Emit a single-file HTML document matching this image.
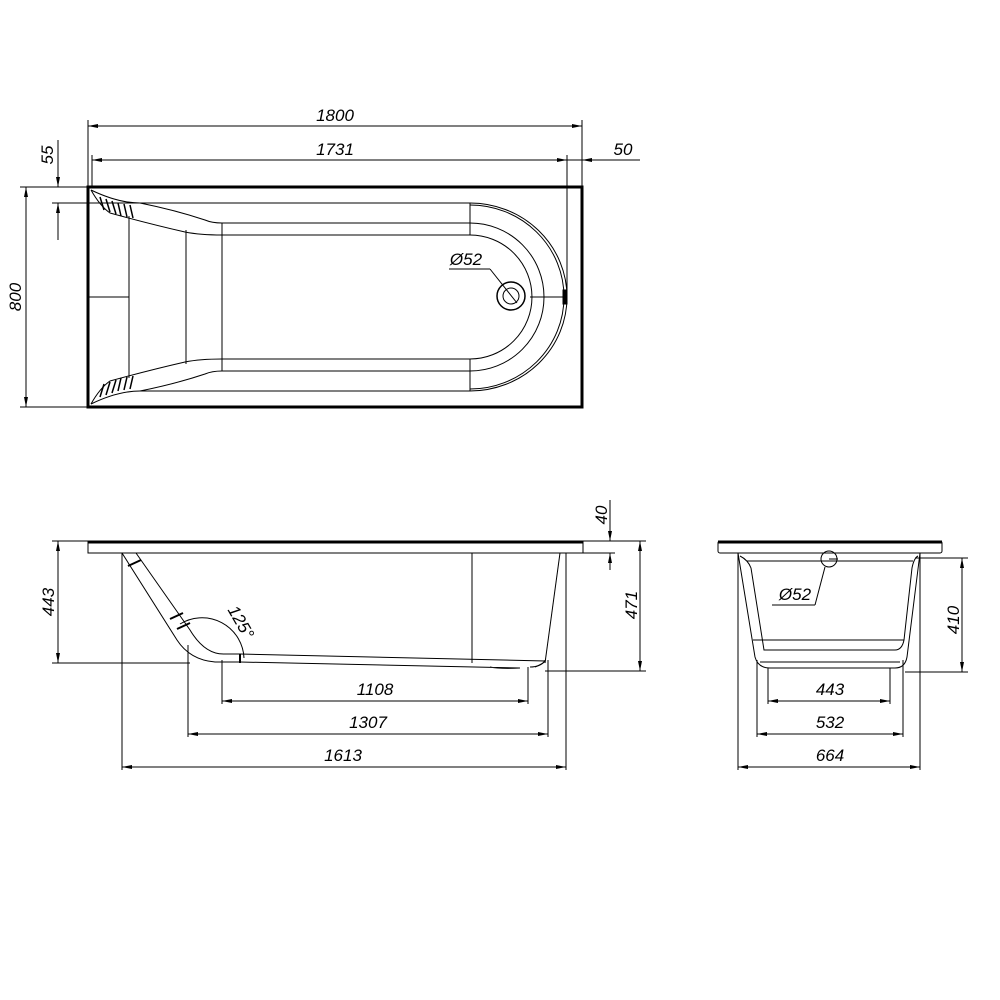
<!DOCTYPE html>
<html><head><meta charset="utf-8"><style>
html,body{margin:0;padding:0;background:#fff;}
svg{display:block;}
text{font-family:"Liberation Sans",sans-serif;font-style:italic;font-size:17px;fill:#000;}
</style></head><body>
<svg width="1000" height="1000" viewBox="0 0 1000 1000" xmlns="http://www.w3.org/2000/svg">
<defs>
<marker id="a" viewBox="0 0 10 6" refX="10" refY="3" markerWidth="10" markerHeight="6" orient="auto-start-reverse" markerUnits="userSpaceOnUse"><path d="M0,1 L10,3 L0,5 z" fill="#000"/></marker>
</defs>
<g fill="none" stroke="#000" stroke-width="1">
<!-- TOP VIEW -->
<rect x="88" y="187" width="494" height="220" stroke-width="3"/>
<path d="M140,203 L470,203 A97,94 0 0 1 470,391 L140,391"/>
<path d="M470,205 A94,92 0 0 1 470,389"/>
<path d="M91,190 Q118,203 140,203"/>
<path d="M91,404 Q118,391 140,391"/>
<path d="M91,190 Q100,206 110,213 Q150,224 185,232 Q200,235 222,235 L470,235 A62,62 0 0 1 470,359 L222,359 Q200,359 185,362 Q150,370 110,381 Q100,388 91,404"/>
<path d="M222,223 L470,223 A74,74 0 0 1 470,371 L222,371"/>
<path d="M140,203 Q175,210 205,220 Q212,223 222,223"/>
<path d="M140,391 Q175,384 205,374 Q212,371 222,371"/>
<line x1="129" y1="216" x2="129" y2="378"/>
<line x1="186" y1="230" x2="186" y2="364"/>
<line x1="222" y1="223" x2="222" y2="371"/>
<line x1="470" y1="203" x2="470" y2="235"/>
<line x1="470" y1="359" x2="470" y2="391"/>
<line x1="88" y1="297" x2="129" y2="297"/>
<line x1="530" y1="297" x2="565" y2="297"/>
<path d="M100,197 L104,210 M106,199 L110,212 M112,201 L116,214 M118,203 L121,216 M124,204 L127,217 M130,205 L133,218" stroke-width="1.5"/>
<path d="M100,397 L104,384 M106,395 L110,382 M112,393 L116,380 M118,391 L121,378 M124,390 L127,377 M130,389 L133,376" stroke-width="1.5"/>
<circle cx="511" cy="296" r="14" stroke-width="1.5"/>
<circle cx="511" cy="296" r="8"/>
<rect x="563" y="290" width="4" height="14" fill="#000"/>
<!-- top dims -->
<line x1="88" y1="120" x2="88" y2="187"/>
<line x1="582" y1="120" x2="582" y2="187"/>
<line x1="88" y1="126" x2="582" y2="126" marker-start="url(#a)" marker-end="url(#a)"/>
<line x1="92" y1="155" x2="92" y2="187"/>
<line x1="567" y1="155" x2="567" y2="300"/>
<line x1="92" y1="160" x2="567" y2="160" marker-start="url(#a)" marker-end="url(#a)"/>
<line x1="567" y1="160" x2="590" y2="160"/>
<line x1="640" y1="160" x2="582" y2="160" marker-end="url(#a)"/>
<line x1="58" y1="140" x2="58" y2="187" marker-end="url(#a)"/>
<line x1="58" y1="240" x2="58" y2="203" marker-end="url(#a)"/>
<line x1="52" y1="187" x2="88" y2="187"/>
<line x1="52" y1="203" x2="140" y2="203"/>
<line x1="20" y1="187" x2="88" y2="187"/>
<line x1="20" y1="407" x2="88" y2="407"/>
<line x1="26" y1="187" x2="26" y2="407" marker-start="url(#a)" marker-end="url(#a)"/>
<line x1="449" y1="269" x2="490" y2="269"/>
<line x1="490" y1="269" x2="517" y2="303"/>
<!-- SIDE VIEW -->
<rect x="88" y="541" width="495" height="12"/>
<line x1="88" y1="542" x2="583" y2="542" stroke-width="3"/>
<path d="M122,553 L177,640 Q190,660 215,662 L240,662"/>
<path d="M136,553 L190,630 Q205,655 225,654 L240,654"/>
<line x1="170" y1="619" x2="183" y2="613" stroke-width="2"/>
<line x1="177" y1="629" x2="190" y2="623" stroke-width="2"/>
<line x1="128" y1="566" x2="141" y2="560" stroke-width="2"/>
<path d="M240,654 L545,661 Q540,667 530,667"/>
<path d="M240,662 L520,668 Q500,669 490,667"/>
<line x1="240" y1="654" x2="240" y2="663" stroke-width="2"/>
<line x1="560" y1="553" x2="545" y2="663"/>
<line x1="472" y1="553" x2="472" y2="663"/>
<path d="M535,667 Q545,663 545,660"/>
<path d="M180,624 A42,42 0 0 1 244,658"/>
<!-- side dims -->
<line x1="52" y1="541" x2="88" y2="541"/>
<line x1="52" y1="663" x2="190" y2="663"/>
<line x1="58" y1="541" x2="58" y2="663" marker-start="url(#a)" marker-end="url(#a)"/>
<line x1="583" y1="541" x2="646" y2="541"/>
<line x1="545" y1="671" x2="646" y2="671"/>
<line x1="640" y1="541" x2="640" y2="671" marker-start="url(#a)" marker-end="url(#a)"/>
<line x1="583" y1="553" x2="615" y2="553"/>
<line x1="610" y1="500" x2="610" y2="541" marker-end="url(#a)"/>
<line x1="610" y1="570" x2="610" y2="553" marker-end="url(#a)"/>
<line x1="222" y1="660" x2="222" y2="704"/>
<line x1="528" y1="667" x2="528" y2="704"/>
<line x1="222" y1="701" x2="528" y2="701" marker-start="url(#a)" marker-end="url(#a)"/>
<line x1="188" y1="645" x2="188" y2="737"/>
<line x1="548" y1="660" x2="548" y2="737"/>
<line x1="188" y1="734" x2="548" y2="734" marker-start="url(#a)" marker-end="url(#a)"/>
<line x1="122" y1="553" x2="122" y2="770"/>
<line x1="566" y1="553" x2="566" y2="770"/>
<line x1="122" y1="767" x2="566" y2="767" marker-start="url(#a)" marker-end="url(#a)"/>
<!-- END VIEW -->
<rect x="718" y="541" width="224" height="12" rx="2"/>
<line x1="718" y1="542" x2="942" y2="542" stroke-width="3"/>
<path d="M738,553 L755,657 Q758,668 770,668 L895,668 Q905,668 907,657 L920,553"/>
<path d="M740,556 Q748,560 751,568 L764,650 L895,650 Q902,650 904,640 L912,568 Q914,558 918,556"/>
<line x1="747" y1="561" x2="913" y2="561"/>
<line x1="753" y1="640" x2="904" y2="640"/>
<line x1="760" y1="662" x2="900" y2="662"/>
<circle cx="829" cy="559" r="8"/>
<line x1="829" y1="559" x2="838" y2="559"/>
<line x1="825" y1="567" x2="815" y2="605"/>
<line x1="772" y1="605" x2="815" y2="605"/>
<!-- end dims -->
<line x1="915" y1="558" x2="968" y2="558"/>
<line x1="905" y1="672" x2="968" y2="672"/>
<line x1="962" y1="558" x2="962" y2="672" marker-start="url(#a)" marker-end="url(#a)"/>
<line x1="768" y1="668" x2="768" y2="704"/>
<line x1="890" y1="668" x2="890" y2="704"/>
<line x1="768" y1="701" x2="890" y2="701" marker-start="url(#a)" marker-end="url(#a)"/>
<line x1="757" y1="660" x2="757" y2="737"/>
<line x1="903" y1="660" x2="903" y2="737"/>
<line x1="757" y1="734" x2="903" y2="734" marker-start="url(#a)" marker-end="url(#a)"/>
<line x1="738" y1="553" x2="738" y2="770"/>
<line x1="920" y1="553" x2="920" y2="770"/>
<line x1="738" y1="767" x2="920" y2="767" marker-start="url(#a)" marker-end="url(#a)"/>
</g>
<text x="335" y="121" text-anchor="middle">1800</text>
<text x="335" y="155" text-anchor="middle">1731</text>
<text x="623" y="155" text-anchor="middle">50</text>
<text x="466" y="265" text-anchor="middle">Ø52</text>
<text transform="translate(53,155) rotate(-90)" text-anchor="middle">55</text>
<text transform="translate(21,297) rotate(-90)" text-anchor="middle">800</text>
<text transform="translate(54,602) rotate(-90)" text-anchor="middle">443</text>
<text transform="translate(637,605) rotate(-90)" text-anchor="middle">471</text>
<text transform="translate(607,515) rotate(-90)" text-anchor="middle">40</text>
<text transform="translate(236,625) rotate(60)" text-anchor="middle">125°</text>
<text x="375" y="695" text-anchor="middle">1108</text>
<text x="368" y="728" text-anchor="middle">1307</text>
<text x="343" y="761" text-anchor="middle">1613</text>
<text x="795" y="600" text-anchor="middle">Ø52</text>
<text transform="translate(959,620) rotate(-90)" text-anchor="middle">410</text>
<text x="830" y="695" text-anchor="middle">443</text>
<text x="830" y="728" text-anchor="middle">532</text>
<text x="830" y="761" text-anchor="middle">664</text>
</svg>
</body></html>
